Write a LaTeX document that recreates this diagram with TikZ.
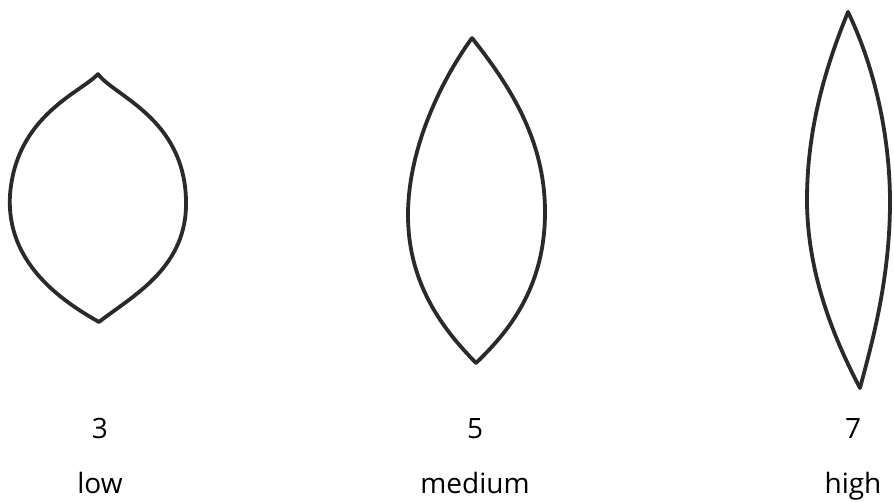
\documentclass[tikz,border=0pt]{standalone}
\usepackage{fontspec}
\setmainfont{Open Sans}
\definecolor{ink}{HTML}{2A2A2A}
\begin{document}
\begin{tikzpicture}[x=1pt,y=-1pt,
  leaf/.style={draw=ink,line width=3.8pt,line join=round,line cap=round},
  lbl/.style={font=\fontsize{28}{32}\selectfont,text=black,inner sep=0pt,anchor=base}]
\useasboundingbox (0,0) rectangle (894,501);
% leaf 1 (low)
\draw[leaf] (98,74) .. controls (82,92) and (16,115) .. (10,195)
                   .. controls (6,262) and (60,300) .. (99,322);
\draw[leaf] (98,74) .. controls (114,96) and (184,118) .. (186,200)
                   .. controls (188,268) and (132,296) .. (99,322);
% leaf 2 (medium)
\draw[leaf] (472,38) .. controls (440,82) and (408,150) .. (408,215)
                    .. controls (408,290) and (450,336) .. (476,363);
\draw[leaf] (472,38) .. controls (510,86) and (545,140) .. (545,212)
                    .. controls (545,290) and (506,334) .. (476,363);
% leaf 3 (high)
\draw[leaf] (848,12) .. controls (820,80) and (807,140) .. (807,200)
                    .. controls (807,280) and (840,350) .. (860,388);
\draw[leaf] (848,12) .. controls (876,70) and (890,140) .. (890,202)
                    .. controls (890,282) and (870,350) .. (860,388);
% labels
\node[lbl] (n3) at (100,438) {3};
\node[lbl] (l3) at (100,493) {low};
\node[lbl] (n5) at (475,438) {5};
\node[lbl] (l5) at (475,493) {medium};
\node[lbl] (n7) at (853,438) {7};
\node[lbl] (l7) at (853,493) {high};
\end{tikzpicture}
\end{document}
